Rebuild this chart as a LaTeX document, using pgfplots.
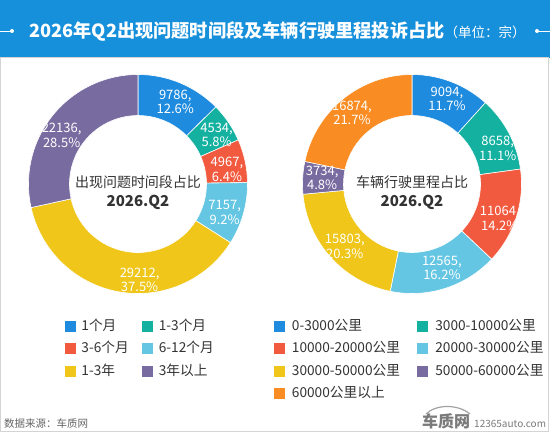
\documentclass[border=0pt]{standalone}
\usepackage{pgfplots}
\pgfplotsset{compat=1.18}
\usepackage{pgfplotstable}
\usepackage{fontspec}
\setmainfont{Noto Sans CJK SC}
\exhyphenpenalty=10000
\hyphenpenalty=10000
\definecolor{bar}{HTML}{1790DC}
\definecolor{frame}{HTML}{D4D4D4}
\definecolor{txt}{HTML}{333333}
\definecolor{foot}{HTML}{666666}
\definecolor{logo}{HTML}{7A7A7A}
\definecolor{cA}{HTML}{1E8BDE}
\definecolor{cB}{HTML}{14B1A0}
\definecolor{cC}{HTML}{F25A3F}
\definecolor{cD}{HTML}{64C6E2}
\definecolor{cE}{HTML}{EFC619}
\definecolor{cF}{HTML}{786BA0}
\definecolor{cG}{HTML}{F98C22}

% v = complaints, p = share (%), c = colour, dx/dy = label nudge
\pgfplotstableread{
v p c dx dy
9786 12.6 cA 3 0
4534 5.8 cB 5 -1
4967 6.4 cC 2 -4
7157 9.2 cD 1 -4
29212 37.5 cE 17 -8
22136 28.5 cF -7 -7
}\leftdata
\pgfplotstableread{
v p c dx dy
9094 11.7 cA 3 2
8658 11.1 cB 7 -6
11064 14.2 cC 3 -7
12565 16.2 cD 3 1
15803 20.3 cE -1 -3
3734 4.8 cF -1 1
16874 21.7 cG -4 2
}\rightdata

\newcommand\fpuset[2]{\begingroup\pgfkeys{/pgf/fpu=true,/pgf/fpu/output format=fixed}\pgfmathparse{#2}\xdef#1{\pgfmathresult}\endgroup}
\def\Ro{109.5}\def\Ri{68.5}\def\Rl{89}
\newcommand\builddonut[3]{%
  \gdef#2{}\gdef#3{}%
  \pgfplotstablegetrowsof{#1}%
  \pgfmathtruncatemacro\nrows{\pgfplotsretval-1}%
  \gdef\tot{0}%
  \pgfplotsforeachungrouped \rowi in {0,...,\nrows}{%
    \pgfplotstablegetelem{\rowi}{v}\of{#1}%
    \fpuset\tot{\tot+\pgfplotsretval}%
  }%
  \gdef\cum{0}%
  \pgfplotsforeachungrouped \rowi in {0,...,\nrows}{%
    \pgfplotstablegetelem{\rowi}{v}\of{#1}\edef\val{\pgfplotsretval}%
    \pgfplotstablegetelem{\rowi}{p}\of{#1}\edef\pct{\pgfplotsretval}%
    \pgfplotstablegetelem{\rowi}{c}\of{#1}\edef\col{\pgfplotsretval}%
    \pgfplotstablegetelem{\rowi}{dx}\of{#1}\edef\ddx{\pgfplotsretval}%
    \pgfplotstablegetelem{\rowi}{dy}\of{#1}\edef\ddy{\pgfplotsretval}%
    \fpuset\aA{90-360*\cum/\tot}%
    \fpuset\cum{\cum+\val}%
    \fpuset\aB{90-360*\cum/\tot}%
    \fpuset\aM{(\aA+\aB)/2}%
    \xdef#2{\unexpanded\expandafter{#2}\noexpand\fill[\col,draw=white,line width=0.6pt] (axis cs:{\Ro*cos(\aA)},{\Ro*sin(\aA)}) arc[start angle=\aA,end angle=\aB,radius=\Ro pt] -- (axis cs:{\Ri*cos(\aB)},{\Ri*sin(\aB)}) arc[start angle=\aB,end angle=\aA,radius=\Ri pt] -- cycle;}%
    \xdef#3{\unexpanded\expandafter{#3}\noexpand\node[lbl] at (axis cs:{\Rl*cos(\aM)+(\ddx)},{\Rl*sin(\aM)+(\ddy)}) {\val,\noexpand\\\pct\noexpand\%};}%
  }%
}
\builddonut{\leftdata}{\leftfills}{\leftlabels}
\builddonut{\rightdata}{\rightfills}{\rightlabels}

\tikzset{
  lbl/.style={text=white, align=center, font=\fontsize{13}{14.5}\selectfont, inner sep=0pt},
  ctr/.style={text=txt, inner sep=0pt, font=\fontsize{14}{16}\selectfont},
}
\pgfplotsset{
  donut/.style={x=1pt, y=1pt, xmin=-110, xmax=110, ymin=-110, ymax=110,
    hide axis, clip=false, anchor=origin,
    legend columns=2, legend cell align=left,
    legend image code/.code={\fill[##1] (0pt,-5pt) rectangle (10pt,5pt);},
    legend style={anchor=north west, draw=none, fill=none, inner sep=0pt, outer sep=0pt,
      row sep=8.4pt, column sep=0pt, font=\fontsize{13.7}{15}\selectfont, text=txt}},
}

\begin{document}
\begin{tikzpicture}[x=1pt,y=1pt]
\fill[white] (0,0) rectangle (550,432);
\fill[bar] (0,374) rectangle (550,432);
\draw[frame, line width=1pt] (0.5,0.5) rectangle (548.5,374);
\draw[white, line width=0.8pt] (0,401) -- (12,401);
\fill[white] (12,401) circle (2);
\draw[white, line width=0.8pt] (537,401) -- (550,401);
\fill[white] (537,401) circle (2);
\node[anchor=west, text=white, inner sep=0pt] at (29,401) {{\bfseries\fontsize{18.2}{22}\selectfont 2026年Q2出现问题时间段及车辆行驶里程投诉占比}{\fontsize{13.5}{15}\selectfont（单位：宗）}};

\begin{axis}[donut, at={(138,248)},
  legend style={at={(axis cs:-73,-135)},
    nodes={inner xsep=6pt, inner ysep=0pt, text height=11.5pt, text depth=2.5pt, text width=55pt, align=left}}]
\leftfills
\leftlabels
\node[ctr] at (axis cs:0,2) {出现问题时间段占比};
\node[ctr, font=\bfseries\fontsize{15}{18}\selectfont] at (axis cs:0,-18) {2026.Q2};
\addlegendimage{cA}\addlegendentry{1个月}
\addlegendimage{cB}\addlegendentry{1-3个月}
\addlegendimage{cC}\addlegendentry{3-6个月}
\addlegendimage{cD}\addlegendentry{6-12个月}
\addlegendimage{cE}\addlegendentry{1-3年}
\addlegendimage{cF}\addlegendentry{3年以上}
\end{axis}

\begin{axis}[donut, at={(412,248)},
  legend style={at={(axis cs:-138,-135)},
    nodes={inner xsep=7.5pt, inner ysep=0pt, text height=11.5pt, text depth=2.5pt, text width=118pt, align=left}}]
\rightfills
\rightlabels
\node[ctr] at (axis cs:0,2) {车辆行驶里程占比};
\node[ctr, font=\bfseries\fontsize{15}{18}\selectfont] at (axis cs:0,-18) {2026.Q2};
\addlegendimage{cA}\addlegendentry{0-3000公里}
\addlegendimage{cB}\addlegendentry{3000-10000公里}
\addlegendimage{cC}\addlegendentry{10000-20000公里}
\addlegendimage{cD}\addlegendentry{20000-30000公里}
\addlegendimage{cE}\addlegendentry{30000-50000公里}
\addlegendimage{cF}\addlegendentry{50000-60000公里}
\addlegendimage{cG}\addlegendentry{60000公里以上}
\end{axis}

\node[anchor=west, text=foot, font=\fontsize{10.5}{13}\selectfont, inner sep=0pt] at (4,9) {数据来源：车质网};
\draw[logo!70, line width=1.2pt] (426,18) .. controls (436,28) and (458,28) .. (470,18);
\node[anchor=west, text=logo, font=\bfseries\fontsize{16}{18}\selectfont, inner sep=0pt] at (422,11) {车质网};
\node[anchor=west, text=logo, font=\fontsize{10}{12}\selectfont, inner sep=0pt] at (474,8) {12365auto.com};
\pgfresetboundingbox
\useasboundingbox (0,0) rectangle (550,432);
\end{tikzpicture}
\end{document}
